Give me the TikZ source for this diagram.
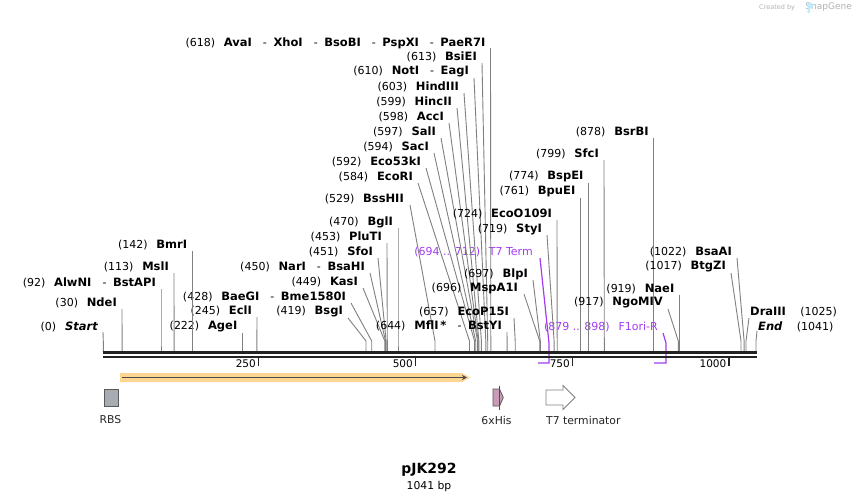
\documentclass[tikz,border=0pt]{standalone}
\usepackage{fontspec}
\setmainfont{DejaVu Sans}
\usepackage{xcolor}
\usepackage{tikz}
\usetikzlibrary{positioning,calc}
\usetikzlibrary{arrows.meta}

\definecolor{seqdark}{HTML}{222222}
\definecolor{cutgray}{HTML}{808080}
\definecolor{featpurple}{HTML}{A23CF0}
\definecolor{orfglow}{HTML}{FFD592}
\definecolor{rbsgray}{HTML}{A7ACB3}
\definecolor{hispink}{HTML}{C99BB6}

\newcommand{\cpos}[1]{(#1)\hspace{0.8em}}
\newcommand{\cname}[1]{{\fontsize{11.5}{12}\selectfont\bfseries #1}}
\newcommand{\csep}{\hspace{1.0em}-\hspace{0.6em}}

\tikzset{
    cutlbl/.style={inner sep=0pt, font=\fontsize{11}{12}\selectfont, text=black},
    cutline/.style={line width=0.9pt, cutgray},
    featline/.style={line width=1.2pt, featpurple},
    ticklbl/.style={inner sep=0pt, font=\fontsize{10.5}{12}\selectfont, anchor=east},
    featlbl/.style={inner sep=0pt, font=\fontsize{10.8}{12}\selectfont, text=black!85},
    featbox/.style={draw=black!65, line width=0.8pt}
}

\begin{document}
\begin{tikzpicture}[x=1pt,y=-1pt]
    \useasboundingbox (0,0) rectangle (860,501);
    \fill[white] (0,0) rectangle (860,501);

    % credit line
    \node[inner sep=0pt, anchor=east, text=black!30] (credit) at (852,7.5)
        {\fontsize{6.5}{8}\selectfont Created by\hspace{1.6em}\fontsize{9}{10}\selectfont SnapGene};
    \fill[cyan!25] (807.5,3) -- (811.5,3) .. controls (814,3) and (814,8) .. (811.5,8) -- (810.5,8) -- (809.5,13) -- (807.5,13) -- cycle;

    % feature brackets (behind the sequence)
    \node[cutlbl, anchor=east, text=featpurple] (lTerm) at (533,252) {(694 .. 712)\hspace{0.8em}T7 Term};
    \coordinate (sTerm) at (549,363);
    \draw[featline] ([xshift=7pt,yshift=-6pt]lTerm.east) -- ([yshift=20pt]sTerm) -- (sTerm) -- ++(-11,0);
    \node[cutlbl, anchor=east, text=featpurple] (lF1ori) at (658,327) {(879 .. 898)\hspace{0.8em}F1ori-R};
    \coordinate (sF1ori) at (666,363);
    \draw[featline] ([xshift=5pt,yshift=-6pt]lF1ori.east) -- ([yshift=20pt]sF1ori) -- (sF1ori) -- ++(-12,0);

    % upper cluster
    \node[cutlbl, anchor=east] (lAvaI) at (485.5,43) {\cpos{618}\cname{AvaI}\csep\cname{XhoI}\csep\cname{BsoBI}\csep\cname{PspXI}\csep\cname{PaeR7I}};
    \coordinate (sAvaI) at (490.8,352);
    \draw[cutline] ([xshift=5pt,yshift=-5pt]lAvaI.east) -- ([yshift=11pt]sAvaI) -- (sAvaI);
    \node[cutlbl, anchor=east] (lBsiEI) at (477,57) {\cpos{613}\cname{BsiEI}};
    \coordinate (sBsiEI) at (487.7,352);
    \draw[cutline] ([xshift=5pt,yshift=-6pt]lBsiEI.east) -- ([yshift=11pt]sBsiEI) -- (sBsiEI);
    \node[cutlbl, anchor=east] (lNotI) at (469,72) {\cpos{610}\cname{NotI}\csep\cname{EagI}};
    \coordinate (sNotI) at (485.8,352);
    \draw[cutline] ([xshift=5pt,yshift=-6pt]lNotI.east) -- ([yshift=11pt]sNotI) -- (sNotI);
    \node[cutlbl, anchor=east] (lHindIII) at (459,87) {\cpos{603}\cname{HindIII}};
    \coordinate (sHindIII) at (481.4,352);
    \draw[cutline] ([xshift=5pt,yshift=-6pt]lHindIII.east) -- ([yshift=11pt]sHindIII) -- (sHindIII);
    \node[cutlbl, anchor=east] (lHincII) at (452,102) {\cpos{599}\cname{HincII}};
    \coordinate (sHincII) at (478.9,352);
    \draw[cutline] ([xshift=5pt,yshift=-6pt]lHincII.east) -- ([yshift=11pt]sHincII) -- (sHincII);
    \node[cutlbl, anchor=east] (lAccI) at (444,117) {\cpos{598}\cname{AccI}};
    \coordinate (sAccI) at (478.2,352);
    \draw[cutline] ([xshift=5pt,yshift=-6pt]lAccI.east) -- ([yshift=11pt]sAccI) -- (sAccI);
    \node[cutlbl, anchor=east] (lSalI) at (436,132) {\cpos{597}\cname{SalI}};
    \coordinate (sSalI) at (477.6,352);
    \draw[cutline] ([xshift=5pt,yshift=-6pt]lSalI.east) -- ([yshift=11pt]sSalI) -- (sSalI);
    \node[cutlbl, anchor=east] (lSacI) at (429,147) {\cpos{594}\cname{SacI}};
    \coordinate (sSacI) at (475.7,352);
    \draw[cutline] ([xshift=5pt,yshift=-6pt]lSacI.east) -- ([yshift=11pt]sSacI) -- (sSacI);
    \node[cutlbl, anchor=east] (lEcoftkI) at (421,162) {\cpos{592}\cname{Eco53kI}};
    \coordinate (sEcoftkI) at (474.5,352);
    \draw[cutline] ([xshift=5pt,yshift=-6pt]lEcoftkI.east) -- ([yshift=11pt]sEcoftkI) -- (sEcoftkI);
    \node[cutlbl, anchor=east] (lEcoRI) at (413,177) {\cpos{584}\cname{EcoRI}};
    \coordinate (sEcoRI) at (469.5,352);
    \draw[cutline] ([xshift=5pt,yshift=-6pt]lEcoRI.east) -- ([yshift=11pt]sEcoRI) -- (sEcoRI);

    % middle left group
    \node[cutlbl, anchor=east] (lBssHII) at (404,199) {\cpos{529}\cname{BssHII}};
    \coordinate (sBssHII) at (435.0,352);
    \draw[cutline] ([xshift=6pt,yshift=-6pt]lBssHII.east) -- ([yshift=11pt]sBssHII) -- (sBssHII);
    \node[cutlbl, anchor=east] (lBglI) at (393,222) {\cpos{470}\cname{BglI}};
    \coordinate (sBglI) at (398.0,352);
    \draw[cutline] ([xshift=5pt,yshift=-6pt]lBglI.east) -- ([yshift=11pt]sBglI) -- (sBglI);
    \node[cutlbl, anchor=east] (lPluTI) at (382,237) {\cpos{453}\cname{PluTI}};
    \coordinate (sPluTI) at (387.3,352);
    \draw[cutline] ([xshift=5pt,yshift=-6pt]lPluTI.east) -- ([yshift=11pt]sPluTI) -- (sPluTI);
    \node[cutlbl, anchor=east] (lSfoI) at (373,252) {\cpos{451}\cname{SfoI}};
    \coordinate (sSfoI) at (386.1,352);
    \draw[cutline] ([xshift=5pt,yshift=-6pt]lSfoI.east) -- ([yshift=11pt]sSfoI) -- (sSfoI);
    \node[cutlbl, anchor=east] (lNarI) at (365,267) {\cpos{450}\cname{NarI}\csep\cname{BsaHI}};
    \coordinate (sNarI) at (385.5,352);
    \draw[cutline] ([xshift=5pt,yshift=-6pt]lNarI.east) -- ([yshift=11pt]sNarI) -- (sNarI);
    \node[cutlbl, anchor=east] (lKasI) at (358,282) {\cpos{449}\cname{KasI}};
    \coordinate (sKasI) at (384.8,352);
    \draw[cutline] ([xshift=5pt,yshift=-6pt]lKasI.east) -- ([yshift=11pt]sKasI) -- (sKasI);
    \node[cutlbl, anchor=east] (lBaeGI) at (346,297) {\cpos{428}\cname{BaeGI}\csep\cname{Bme1580I}};
    \coordinate (sBaeGI) at (371.7,352);
    \draw[cutline] ([xshift=5pt,yshift=-6pt]lBaeGI.east) -- ([yshift=11pt]sBaeGI) -- (sBaeGI);
    \node[cutlbl, anchor=east] (lBsgI) at (343,312) {\cpos{419}\cname{BsgI}};
    \coordinate (sBsgI) at (366.0,352);
    \draw[cutline] ([xshift=5pt,yshift=-6pt]lBsgI.east) -- ([yshift=11pt]sBsgI) -- (sBsgI);

    % far left group
    \node[cutlbl, anchor=east] (lEclI) at (252,311) {\cpos{245}\cname{EclI}};
    \coordinate (sEclI) at (256.9,352);
    \draw[cutline] ([xshift=5pt,yshift=-6pt]lEclI.east) -- ([yshift=11pt]sEclI) -- (sEclI);
    \node[cutlbl, anchor=east] (lAgeI) at (237.5,327) {\cpos{222}\cname{AgeI}};
    \coordinate (sAgeI) at (242.5,352);
    \draw[cutline] ([xshift=5pt,yshift=-6pt]lAgeI.east) -- ([yshift=11pt]sAgeI) -- (sAgeI);
    \node[cutlbl, anchor=east] (lBmrI) at (187.3,245) {\cpos{142}\cname{BmrI}};
    \coordinate (sBmrI) at (192.3,352);
    \draw[cutline] ([xshift=5pt,yshift=-6pt]lBmrI.east) -- ([yshift=11pt]sBmrI) -- (sBmrI);
    \node[cutlbl, anchor=east] (lMslI) at (169,267) {\cpos{113}\cname{MslI}};
    \coordinate (sMslI) at (174.1,352);
    \draw[cutline] ([xshift=5pt,yshift=-6pt]lMslI.east) -- ([yshift=11pt]sMslI) -- (sMslI);
    \node[cutlbl, anchor=east] (lAlwNI) at (156,283) {\cpos{92}\cname{AlwNI}\csep\cname{BstAPI}};
    \coordinate (sAlwNI) at (161.0,352);
    \draw[cutline] ([xshift=5pt,yshift=-6pt]lAlwNI.east) -- ([yshift=11pt]sAlwNI) -- (sAlwNI);
    \node[cutlbl, anchor=east] (lNdeI) at (117,303) {\cpos{30}\cname{NdeI}};
    \coordinate (sNdeI) at (122.1,352);
    \draw[cutline] ([xshift=5pt,yshift=-6pt]lNdeI.east) -- ([yshift=11pt]sNdeI) -- (sNdeI);
    \node[cutlbl, anchor=east] (lStart) at (98,327) {\cpos{0}\cname{\itshape Start}};
    \coordinate (sStart) at (103.3,352);
    \draw[cutline] ([xshift=5pt,yshift=-5pt]lStart.east) -- ([yshift=11pt]sStart) -- (sStart);

    % middle right group
    \node[cutlbl, anchor=east] (lMflI) at (502,326) {\cpos{644}\cname{MflI\,*}\csep\cname{BstYI}};
    \coordinate (sMflI) at (507.1,352);
    \draw[cutline] ([xshift=5pt,yshift=-6pt]lMflI.east) -- ([yshift=11pt]sMflI) -- (sMflI);
    \node[cutlbl, anchor=east] (lEcoPI) at (509,312) {\cpos{657}\cname{EcoP15I}};
    \coordinate (sEcoPI) at (515.2,352);
    \draw[cutline] ([xshift=5pt,yshift=-6pt]lEcoPI.east) -- ([yshift=11pt]sEcoPI) -- (sEcoPI);
    \node[cutlbl, anchor=east] (lMspAI) at (518,288) {\cpos{696}\cname{MspA1I}};
    \coordinate (sMspAI) at (539.7,352);
    \draw[cutline] ([xshift=6pt,yshift=-6pt]lMspAI.east) -- ([yshift=11pt]sMspAI) -- (sMspAI);
    \node[cutlbl, anchor=east] (lBlpI) at (528,274) {\cpos{697}\cname{BlpI}};
    \coordinate (sBlpI) at (540.3,352);
    \draw[cutline] ([xshift=5pt,yshift=-6pt]lBlpI.east) -- ([yshift=11pt]sBlpI) -- (sBlpI);
    \node[cutlbl, anchor=east] (lStyI) at (542,229) {\cpos{719}\cname{StyI}};
    \coordinate (sStyI) at (554.1,352);
    \draw[cutline] ([xshift=5pt,yshift=-6pt]lStyI.east) -- ([yshift=11pt]sStyI) -- (sStyI);
    \node[cutlbl, anchor=east] (lEcoOI) at (552,214) {\cpos{724}\cname{EcoO109I}};
    \coordinate (sEcoOI) at (557.2,352);
    \draw[cutline] ([xshift=5pt,yshift=-6pt]lEcoOI.east) -- ([yshift=11pt]sEcoOI) -- (sEcoOI);
    \node[cutlbl, anchor=east] (lBpuEI) at (575.5,192) {\cpos{761}\cname{BpuEI}};
    \coordinate (sBpuEI) at (580.5,352);
    \draw[cutline] ([xshift=5pt,yshift=-6pt]lBpuEI.east) -- ([yshift=11pt]sBpuEI) -- (sBpuEI);
    \node[cutlbl, anchor=east] (lBspEI) at (583.6,177) {\cpos{774}\cname{BspEI}};
    \coordinate (sBspEI) at (588.6,352);
    \draw[cutline] ([xshift=5pt,yshift=-6pt]lBspEI.east) -- ([yshift=11pt]sBspEI) -- (sBspEI);
    \node[cutlbl, anchor=east] (lSfcI) at (599,154) {\cpos{799}\cname{SfcI}};
    \coordinate (sSfcI) at (604.3,352);
    \draw[cutline] ([xshift=5pt,yshift=-6pt]lSfcI.east) -- ([yshift=11pt]sSfcI) -- (sSfcI);
    \node[cutlbl, anchor=east] (lBsrBI) at (648.8,132) {\cpos{878}\cname{BsrBI}};
    \coordinate (sBsrBI) at (653.8,352);
    \draw[cutline] ([xshift=5pt,yshift=-6pt]lBsrBI.east) -- ([yshift=11pt]sBsrBI) -- (sBsrBI);

    % right group
    \node[cutlbl, anchor=east] (lNgoMIV) at (663,303) {\cpos{917}\cname{NgoMIV}};
    \coordinate (sNgoMIV) at (678.3,352);
    \draw[cutline] ([xshift=5pt,yshift=-6pt]lNgoMIV.east) -- ([yshift=11pt]sNgoMIV) -- (sNgoMIV);
    \node[cutlbl, anchor=east] (lNaeI) at (674.5,289) {\cpos{919}\cname{NaeI}};
    \coordinate (sNaeI) at (679.5,352);
    \draw[cutline] ([xshift=5pt,yshift=-6pt]lNaeI.east) -- ([yshift=11pt]sNaeI) -- (sNaeI);
    \node[cutlbl, anchor=east] (lBsaAI) at (732,252) {\cpos{1022}\cname{BsaAI}};
    \coordinate (sBsaAI) at (744.1,352);
    \draw[cutline] ([xshift=5pt,yshift=-6pt]lBsaAI.east) -- ([yshift=11pt]sBsaAI) -- (sBsaAI);
    \node[cutlbl, anchor=east] (lBtgZI) at (726,267) {\cpos{1017}\cname{BtgZI}};
    \coordinate (sBtgZI) at (741.0,352);
    \draw[cutline] ([xshift=5pt,yshift=-6pt]lBtgZI.east) -- ([yshift=11pt]sBtgZI) -- (sBtgZI);
    \node[cutlbl, anchor=west] (lDraIII) at (750,312) {\cname{DraIII}\hspace{1.3em}(1025)};
    \coordinate (sDraIII) at (746.0,352);
    \draw[cutline] ([xshift=-1pt,yshift=-6pt]lDraIII.west) -- ([yshift=11pt]sDraIII) -- (sDraIII);
    \node[cutlbl, anchor=west] (lEnd) at (758,327) {\cname{\itshape End}\hspace{1.3em}(1041)};
    \coordinate (sEnd) at (756.0,352);
    \draw[cutline] ([xshift=-1pt,yshift=-4pt]lEnd.west) -- ([yshift=11pt]sEnd) -- (sEnd);

    % sequence line
    \draw[line width=2.7pt, seqdark] (103,352.7) -- (757,352.7);
    \draw[line width=2pt, seqdark] (103,356.7) -- (757,356.7);
    % ticks
    \draw[line width=1.8pt, seqdark] (258.5,357) -- (258.5,366);
    \node[ticklbl] (t250) at (256,364) {250};
    \draw[line width=1.8pt, seqdark] (415.5,357) -- (415.5,366);
    \node[ticklbl] (t500) at (413,364) {500};
    \draw[line width=1.8pt, seqdark] (572.5,357) -- (572.5,366);
    \node[ticklbl] (t750) at (570,364) {750};
    \draw[line width=1.8pt, seqdark] (729,357) -- (729,366);
    \node[ticklbl] (t1000) at (726.5,364) {1000};

    % orange arrow
    \fill[orfglow] (120,373) -- (462,373) -- (470,377.5) -- (462,382) -- (120,382) -- cycle;
    \draw[line width=1.6pt, black!70, -{Stealth[length=5pt,width=5pt]}] (122,377.5) -- (467,377.5);

    % features
    \node[featbox, fill=rbsgray, minimum width=14.5pt, minimum height=17pt, inner sep=0pt] (rbs) at (111.3,397.5) {};
    \node[featlbl] (rbslbl) at (110.5,420) {RBS};
    \coordinate (his) at (493,397.5);
    \filldraw[featbox, fill=hispink] (his) ++(0,-8.5) -- ++(6.5,0) -- ++(3.8,8.5) -- ++(-3.8,8.5) -- ++(-6.5,0) -- cycle;
    \draw[line width=0.7pt, black!70] ([xshift=6.5pt,yshift=12pt]his) -- ([xshift=6.5pt,yshift=-12pt]his);
    \node[featlbl] (hislbl) at (496.5,420) {6xHis};
    \coordinate (term) at (546,397.5);
    \filldraw[draw=black!50, line width=0.8pt, fill=white] (term) ++(0,-7.5) -- ++(17,0) -- ++(0,-4.5) -- ++(12,12) -- ++(-12,12) -- ++(0,-4.5) -- ++(-17,0) -- cycle;
    \node[featlbl, anchor=west] (termlbl) at (546,420) {T7 terminator};

    % title
    \node[inner sep=0pt, font=\fontsize{14}{16}\selectfont\bfseries] (title) at (429,470) {pJK292};
    \node[inner sep=0pt, font=\fontsize{10.8}{12}\selectfont, below=4.5pt of title] (size) {1041 bp};
\end{tikzpicture}
\end{document}
